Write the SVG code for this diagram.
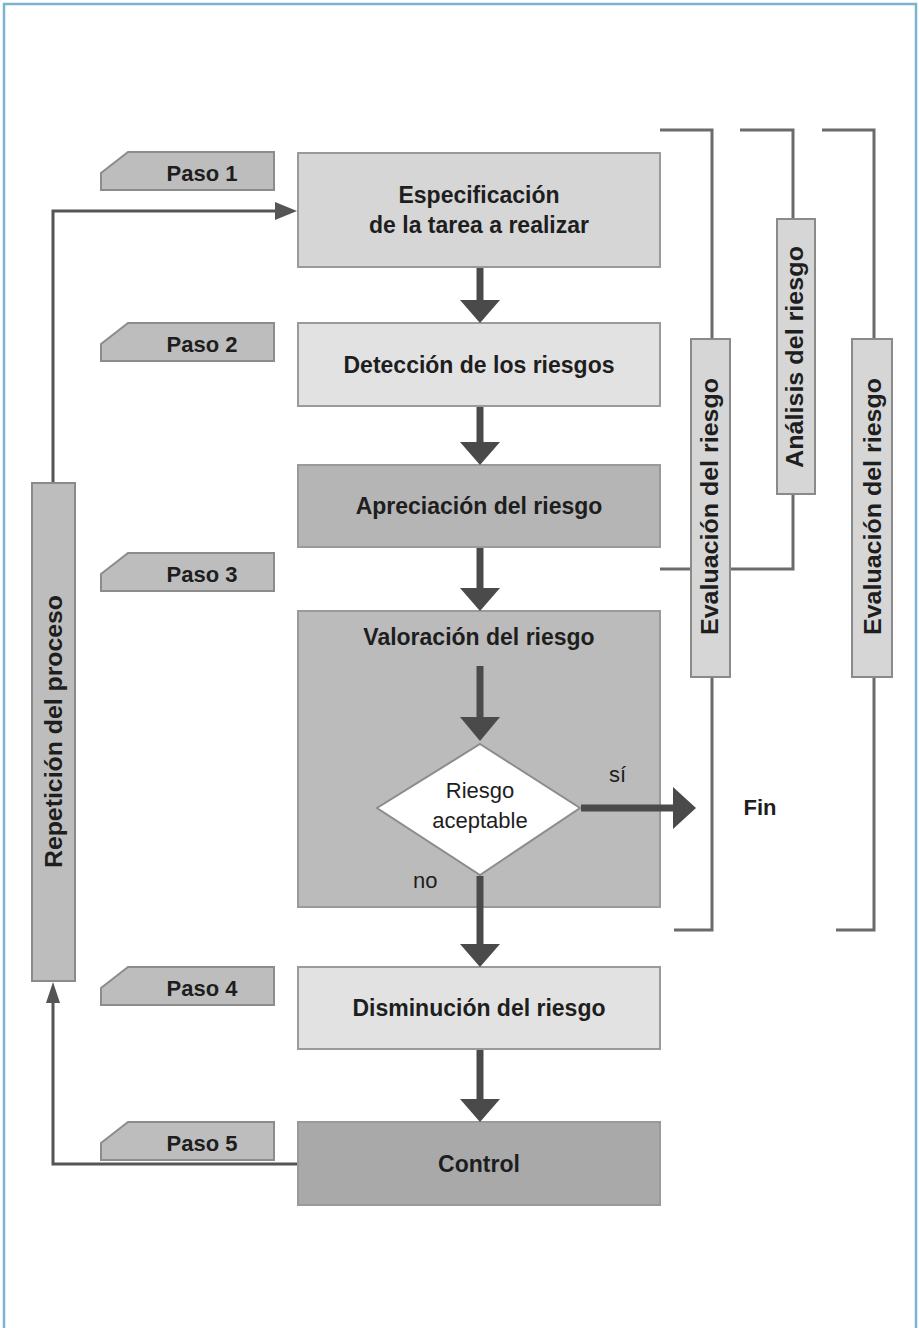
<svg xmlns="http://www.w3.org/2000/svg" width="919" height="1328" viewBox="0 0 919 1328">
<style>
.t{font-family:"Liberation Sans",Arial,sans-serif;font-weight:bold;font-size:23px;fill:#1e1e1e;text-anchor:middle}
.r{font-family:"Liberation Sans",Arial,sans-serif;font-size:22px;fill:#1e1e1e}
.box{stroke:#9a9a9a;stroke-width:2}
.tab{fill:#bdbdbd;stroke:#8c8c8c;stroke-width:2}
.vb{fill:#d6d6d6;stroke:#8a8a8a;stroke-width:2}
.br{fill:none;stroke:#6b6b6b;stroke-width:3}
.thick{stroke:#4a4a4a;stroke-width:7;fill:none}
.head{fill:#4a4a4a}
.thin{stroke:#555;stroke-width:3;fill:none}
</style>
<rect width="919" height="1328" fill="#fff"/>
<path d="M4,1330 V4 H916 V1330" fill="none" stroke="#7bb3d0" stroke-width="2.5"/>

<g id="brackets">
  <path class="br" d="M660,130 H712 V930 H674"/>
  <path class="br" d="M740,130 H793 V569 H660"/>
  <path class="br" d="M822,130 H874 V930 H836"/>
</g>

<g id="tab1"><path class="tab" d="M101,173 L128,152 H274 V190 H101 Z"/><text class="t" x="202" y="181" style="font-size:22px">Paso 1</text></g>
<g id="tab2"><path class="tab" d="M101,344 L128,323 H274 V361 H101 Z"/><text class="t" x="202" y="352" style="font-size:22px">Paso 2</text></g>
<g id="tab3"><path class="tab" d="M101,574 L128,553 H274 V591 H101 Z"/><text class="t" x="202" y="582" style="font-size:22px">Paso 3</text></g>
<g id="tab4"><path class="tab" d="M101,988 L128,967 H274 V1005 H101 Z"/><text class="t" x="202" y="996" style="font-size:22px">Paso 4</text></g>
<g id="tab5"><path class="tab" d="M101,1143 L128,1122 H274 V1160 H101 Z"/><text class="t" x="202" y="1151" style="font-size:22px">Paso 5</text></g>

<g id="box1"><rect class="box" x="298" y="153" width="362" height="114" fill="#d6d6d6"/>
  <text class="t" x="479" y="203">Especificación</text>
  <text class="t" x="479" y="233">de la tarea a realizar</text></g>
<g id="box2"><rect class="box" x="298" y="323" width="362" height="83" fill="#e2e2e2"/>
  <text class="t" x="479" y="373">Detección de los riesgos</text></g>
<g id="box3"><rect class="box" x="298" y="465" width="362" height="82" fill="#b5b5b5"/>
  <text class="t" x="479" y="514">Apreciación del riesgo</text></g>
<g id="box4"><rect class="box" x="298" y="611" width="362" height="296" fill="#bbbbbb"/>
  <text class="t" x="479" y="645">Valoración del riesgo</text></g>
<g id="decision"><polygon points="480,744 580,808 480,875 377,808" fill="#fff" stroke="#8c8c8c" stroke-width="2"/>
  <text class="r" x="480" y="798" text-anchor="middle">Riesgo</text>
  <text class="r" x="480" y="828" text-anchor="middle">aceptable</text></g>
<g id="labels">
  <text class="r" x="609" y="782">sí</text>
  <text class="r" x="413" y="888">no</text>
</g>
<g id="fin"><text class="t" x="760" y="815" style="font-size:22px">Fin</text></g>
<g id="box5"><rect class="box" x="298" y="967" width="362" height="82" fill="#e2e2e2"/>
  <text class="t" x="479" y="1016">Disminución del riesgo</text></g>
<g id="box6"><rect class="box" x="298" y="1122" width="362" height="83" fill="#a9a9a9"/>
  <text class="t" x="479" y="1172">Control</text></g>

<g id="repeticion"><rect class="vb" x="32" y="483" width="43" height="498" style="fill:#bdbdbd"/>
  <text class="t" transform="translate(62,731.5) rotate(-90)" textLength="273" lengthAdjust="spacingAndGlyphs">Repetición del proceso</text></g>
<g id="evaluacion1"><rect class="vb" x="691" y="339" width="39" height="338"/>
  <text class="t" transform="translate(718,506.5) rotate(-90)" textLength="257" lengthAdjust="spacingAndGlyphs">Evaluación del riesgo</text></g>
<g id="analisis"><rect class="vb" x="777" y="219" width="38" height="275"/>
  <text class="t" transform="translate(803,357) rotate(-90)" textLength="222" lengthAdjust="spacingAndGlyphs">Análisis del riesgo</text></g>
<g id="evaluacion2"><rect class="vb" x="852" y="339" width="40" height="338"/>
  <text class="t" transform="translate(881,506.5) rotate(-90)" textLength="257" lengthAdjust="spacingAndGlyphs">Evaluación del riesgo</text></g>

<g id="connectors">
  <line class="thick" x1="480" y1="268" x2="480" y2="302"/>
  <polygon class="head" points="460,300 500,300 480,323"/>
  <line class="thick" x1="480" y1="407" x2="480" y2="444"/>
  <polygon class="head" points="460,442 500,442 480,465"/>
  <line class="thick" x1="480" y1="548" x2="480" y2="590"/>
  <polygon class="head" points="460,588 500,588 480,611"/>
  <line class="thick" x1="480" y1="666" x2="480" y2="720"/>
  <polygon class="head" points="460,717 500,717 480,741"/>
  <line class="thick" x1="480" y1="876" x2="480" y2="946"/>
  <polygon class="head" points="460,944 500,944 480,967"/>
  <line class="thick" x1="480" y1="1050" x2="480" y2="1101"/>
  <polygon class="head" points="460,1099 500,1099 480,1122"/>
  <line class="thick" x1="581" y1="808" x2="675" y2="808"/>
  <polygon class="head" points="673,787 673,829 696,808"/>
  <path class="thin" d="M53,482 V211 H277"/>
  <polygon fill="#555" points="275,202 275,220 297,211"/>
  <path class="thin" d="M297,1164 H53 V1000"/>
  <polygon fill="#555" points="46,1003 60,1003 53,982"/>
</g>
</svg>
